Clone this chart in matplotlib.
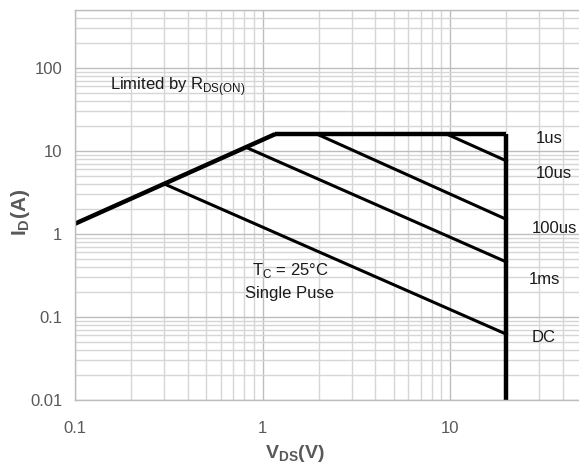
import numpy as np
import matplotlib
matplotlib.use("Agg")
import matplotlib.pyplot as plt
from matplotlib.ticker import LogLocator, NullFormatter, FixedLocator, FixedFormatter

plt.rcParams['font.family'] = ['Liberation Sans', 'DejaVu Sans']
plt.rcParams['mathtext.fontset'] = 'custom'
plt.rcParams['mathtext.rm'] = 'Liberation Sans'
plt.rcParams['mathtext.bf'] = 'Liberation Sans:bold'

# safe operating area (V, A)
rds_v = [0.1, 1.17]
rds_i = [1.33, 16.0]
flat_v = [1.17, 20.0]
flat_i = [16.0, 16.0]
wall_v = [20.0, 20.0]
wall_i = [16.0, 0.01]
us10_v = [9.6, 20.0]
us10_i = [16.0, 7.6]
us100_v = [1.95, 20.0]
us100_i = [16.0, 1.5]
ms1_v = [0.83, 20.0]
ms1_i = [10.9, 0.46]
dc_v = [0.3, 20.0]
dc_i = [4.0, 0.062]

curve_names = ['1us', '10us', '100us', '1ms', 'DC']
x_ticks = [0.1, 1, 10]
x_ticklabels = ['0.1', '1', '10']
y_ticks = [0.01, 0.1, 1, 10, 100]
y_ticklabels = ['0.01', '0.1', '1', '10', '100']

W, H = 579, 476
fig = plt.figure(figsize=(W / 100, H / 100), dpi=100)
# axes run past the right edge, the reference is cropped there
x0, x1 = 75, 637.5
y_top, y_bot = 10, 400
ax = fig.add_axes([x0 / W, 1 - y_bot / H, (x1 - x0) / W, (y_bot - y_top) / H])
ax.set_xscale('log')
ax.set_yscale('log')
ax.set_xlim(0.1, 100)
ax.set_ylim(0.01, 500)

ax.xaxis.set_major_locator(FixedLocator(x_ticks))
ax.xaxis.set_major_formatter(FixedFormatter(x_ticklabels))
ax.yaxis.set_major_locator(FixedLocator(y_ticks))
ax.yaxis.set_major_formatter(FixedFormatter(y_ticklabels))
ax.xaxis.set_minor_locator(LogLocator(base=10, subs=np.arange(2, 10)))
ax.yaxis.set_minor_locator(LogLocator(base=10, subs=np.arange(2, 10)))
ax.xaxis.set_minor_formatter(NullFormatter())
ax.yaxis.set_minor_formatter(NullFormatter())

ax.grid(True, which='major', color='#bdbdbd', lw=1.0)
ax.grid(True, which='minor', color='#d6d6d6', lw=1.0)
ax.set_axisbelow(True)
for s in ax.spines.values():
    s.set_color('#bdbdbd')
    s.set_linewidth(1.0)
ax.tick_params(which='both', length=0)
ax.tick_params(axis='x', pad=15, labelsize=12, labelcolor='#595959')
ax.tick_params(axis='y', pad=9, labelsize=12, labelcolor='#595959')

thick = 3.2
thin = 2.2
ax.plot(rds_v, rds_i, color='black', lw=thick, solid_capstyle='butt')
ax.plot(flat_v, flat_i, color='black', lw=thick, solid_capstyle='butt')
ax.plot(wall_v, wall_i, color='black', lw=thick, solid_capstyle='butt')
ax.plot(us10_v, us10_i, color='black', lw=thin)
ax.plot(us100_v, us100_i, color='black', lw=thin)
ax.plot(ms1_v, ms1_i, color='black', lw=thin)
ax.plot(dc_v, dc_i, color='black', lw=thin)

label_pos = [(28.7, 14.3), (28.7, 5.3), (27.3, 1.18), (26.3, 0.287), (27.3, 0.056)]
for name, (lx, ly) in zip(curve_names, label_pos):
    ax.text(lx, ly, name, fontsize=12, ha='left', va='center', color='#1a1a1a')

ax.text(0.154, 59, r'Limited by R$_{\mathrm{DS(ON)}}$', fontsize=12,
        ha='left', va='center', color='#1a1a1a')
ax.text(1.40, 0.36, r'T$_{\mathrm{C}}$ = 25°C', fontsize=12,
        ha='center', va='center', color='#1a1a1a')
ax.text(1.40, 0.19, 'Single Puse', fontsize=12,
        ha='center', va='center', color='#1a1a1a')

fig.text(295 / W, 1 - 453 / H, r'$\mathbf{V_{DS}(V)}$', fontsize=14,
         ha='center', va='center', color='#595959')
fig.text(20 / W, 1 - 212 / H, r'$\mathbf{I_{D}(A)}$', fontsize=15,
         ha='center', va='center', color='#595959', rotation=90)

fig.savefig('out.png', dpi=100)
